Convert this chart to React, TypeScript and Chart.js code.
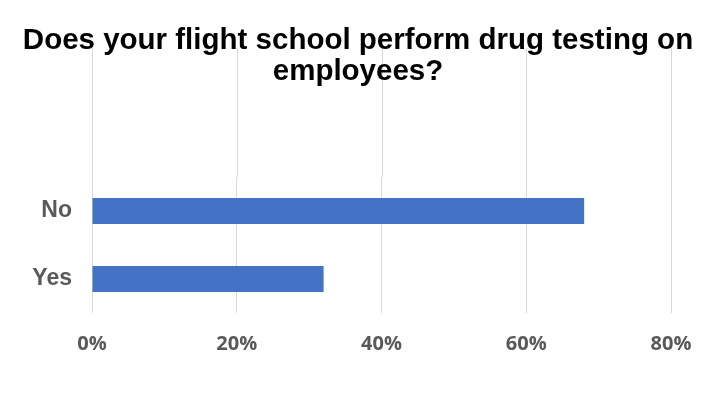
import React, { useEffect, useRef } from "react";
import { Chart, registerables } from "chart.js";

Chart.register(...registerables);

const categories = ["No", "Yes"];
const values = [68, 32];
const xTicks = [0, 20, 40, 60, 80];
const titleLines = ["Does your flight school perform drug testing on", "employees?"];

const GRID_COLOR = "#d9d9d9";

const gridExtend = {
  id: "gridExtend",
  beforeDraw(chart: any) {
    const { ctx, chartArea, scales } = chart;
    const x = scales.x;
    ctx.save();
    ctx.strokeStyle = GRID_COLOR;
    ctx.lineWidth = 1;
    xTicks.forEach((t) => {
      const px = Math.round(x.getPixelForValue(t)) + 0.5;
      ctx.beginPath();
      ctx.moveTo(px, 48);
      ctx.lineTo(px, chartArea.top);
      ctx.stroke();
    });
    ctx.restore();
  },
};

const chartTitle = {
  id: "chartTitle",
  afterDraw(chart: any) {
    const { ctx } = chart;
    ctx.save();
    ctx.fillStyle = "#000000";
    ctx.font = "bold 29.5px 'Liberation Sans', Arial, sans-serif";
    ctx.textAlign = "center";
    ctx.textBaseline = "alphabetic";
    const cx = 358;
    const baselines = [48.5, 79.5];
    titleLines.forEach((line, i) => {
      ctx.fillText(line, cx, baselines[i]);
    });
    ctx.restore();
  },
};

export default function App() {
  const ref = useRef<HTMLCanvasElement>(null);
  useEffect(() => {
    if (!ref.current) return;
    const chart = new Chart(ref.current, {
      type: "bar",
      data: {
        labels: categories,
        datasets: [
          {
            data: values,
            backgroundColor: "#4472c4",
            categoryPercentage: 0.76,
            barPercentage: 0.5,
          },
        ],
      },
      plugins: [gridExtend, chartTitle],
      options: {
        indexAxis: "y",
        animation: false,
        responsive: false,
        maintainAspectRatio: false,
        layout: { padding: { top: 177, right: 49, bottom: 0, left: 0 } },
        plugins: {
          legend: { display: false },
          tooltip: { enabled: false },
          title: { display: false },
        },
        scales: {
          x: {
            min: 0,
            max: 80,
            afterBuildTicks: (s: any) => {
              s.ticks = xTicks.map((v) => ({ value: v }));
            },
            afterFit: (s: any) => {
              s.height = 92;
            },
            grid: { color: GRID_COLOR, drawTicks: false },
            border: { display: false },
            ticks: {
              padding: 19,
              color: "#595959",
              font: { family: "'Open Sans', Lato, sans-serif", size: 20, weight: "bold", lineHeight: 1.2 },
              callback: (v: any) => v + "%",
            },
          },
          y: {
            afterFit: (s: any) => {
              s.width = 92;
            },
            grid: { display: false, drawTicks: false },
            border: { display: false },
            ticks: {
              padding: 20,
              color: "#595959",
              font: { family: "'Liberation Sans', Arial, sans-serif", size: 23, weight: "bold" },
            },
          },
        },
      },
    });
    return () => chart.destroy();
  }, []);
  return (
    <div style={{ position: "absolute", left: 0, top: 0, width: 720, height: 405, background: "#fff" }}>
      <canvas ref={ref} width={720} height={405} />
    </div>
  );
}
